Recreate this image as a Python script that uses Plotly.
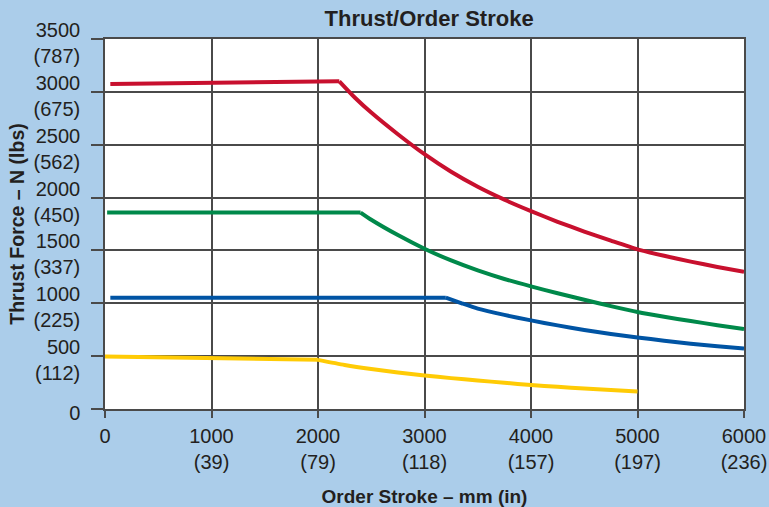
import plotly.graph_objects as go

# Order stroke (mm) and thrust force (N) for each curve
red_stroke = [50, 2200, 2350, 2500, 2750, 3000, 3250, 3500, 3750, 4000, 4250, 4500, 4750, 5000, 5250, 5500, 5750, 6000]
red_thrust = [3075, 3100, 2942, 2804, 2599, 2410, 2244, 2102, 1980, 1872, 1771, 1678, 1592, 1510, 1449, 1394, 1344, 1297]

green_stroke = [20, 2400, 2500, 2750, 3000, 3250, 3500, 3750, 4000, 4250, 4500, 4750, 5000, 5250, 5500, 5750, 6000]
green_thrust = [1858, 1858, 1790, 1645, 1516, 1405, 1311, 1230, 1160, 1095, 1033, 973, 917, 872, 832, 793, 756]

blue_stroke = [50, 3200, 3350, 3500, 3750, 4000, 4250, 4500, 4750, 5000, 5250, 5500, 5750, 6000]
blue_thrust = [1053, 1053, 1000, 950, 890, 838, 791, 748, 710, 677, 646, 618, 594, 573]

yellow_stroke = [0, 1000, 2000, 2250, 2500, 2750, 3000, 3250, 3500, 3750, 4000, 4250, 4500, 4750, 5000]
yellow_thrust = [497, 482, 465, 417, 378, 345, 317, 292, 270, 248, 227, 210, 193, 180, 166]

# Stroke at which each curve leaves its constant-force plateau
red_knee, green_knee, blue_knee, yellow_knee = 2200, 2400, 3200, 2000

# Axis ticks: metric value with imperial value underneath
x_ticks = [0, 1000, 2000, 3000, 4000, 5000, 6000]
x_tick_text = ["0", "1000<br>(39)", "2000<br>(79)", "3000<br>(118)", "4000<br>(157)", "5000<br>(197)", "6000<br>(236)"]
y_ticks = [0, 500, 1000, 1500, 2000, 2500, 3000, 3500]
y_tick_text = ["0", "500<br>(112)", "1000<br>(225)", "1500<br>(337)", "2000<br>(450)",
               "2500<br>(562)", "3000<br>(675)", "3500<br>(787)"]

series = [
    (red_stroke, red_thrust, red_knee, "#c8102e"),
    (green_stroke, green_thrust, green_knee, "#00894a"),
    (blue_stroke, blue_thrust, blue_knee, "#0054a4"),
    (yellow_stroke, yellow_thrust, yellow_knee, "#ffcb05"),
]

FONT = "Liberation Sans, Arial, Helvetica, sans-serif"
TEXT = "#231f20"
GRID = "#4a4a4a"

fig = go.Figure()
for xs, ys, knee, color in series:
    k = xs.index(knee)
    # plateau drawn straight, the falling part as a smooth curve
    fig.add_trace(go.Scatter(x=xs[:k + 1], y=ys[:k + 1], mode="lines",
                             line=dict(color=color, width=4),
                             hoverinfo="x+y", showlegend=False))
    fig.add_trace(go.Scatter(x=xs[k:], y=ys[k:], mode="lines",
                             line=dict(color=color, width=4, shape="spline", smoothing=0.6),
                             hoverinfo="x+y", showlegend=False))

fig.update_layout(
    width=769, height=507,
    margin=dict(l=105, r=25, t=39, b=98, autoexpand=False),
    paper_bgcolor="#abcdea",
    plot_bgcolor="white",
    title=dict(text="<b>Thrust/Order Stroke</b>", x=0.558, xref="container",
               y=1 - 18 / 507, yref="container", xanchor="center", yanchor="middle",
               font=dict(family=FONT, size=22, color=TEXT)),
    font=dict(family=FONT, color=TEXT),
)

fig.update_xaxes(
    range=[0, 6000], tickvals=x_ticks, ticktext=x_tick_text, automargin=False,
    ticks="outside", ticklen=7, tickwidth=1.5, tickcolor=GRID,
    showgrid=True, gridcolor=GRID, gridwidth=1.5,
    showline=True, mirror=True, linecolor=GRID, linewidth=1.5,
    zeroline=False, ticklabelstandoff=1,
    tickfont=dict(family=FONT, size=20, color=TEXT),
    title=dict(text="<b>Order Stroke – mm (in)</b>", standoff=19,
               font=dict(family=FONT, size=19, color=TEXT)),
)
fig.update_yaxes(
    range=[0, 3500], tickvals=y_ticks, ticktext=y_tick_text, automargin=False,
    ticks="outside", ticklen=12, tickwidth=1.5, tickcolor=GRID,
    showgrid=True, gridcolor=GRID, gridwidth=1.5,
    showline=True, mirror=True, linecolor=GRID, linewidth=1.5,
    zeroline=False, ticklabelshift=4, ticklabelstandoff=7,
    tickfont=dict(family=FONT, size=20, color=TEXT),
    title=dict(text="<b>Thrust Force – N (lbs)</b>", standoff=4,
               font=dict(family=FONT, size=19.5, color=TEXT)),
)

fig.write_html("out.html")
